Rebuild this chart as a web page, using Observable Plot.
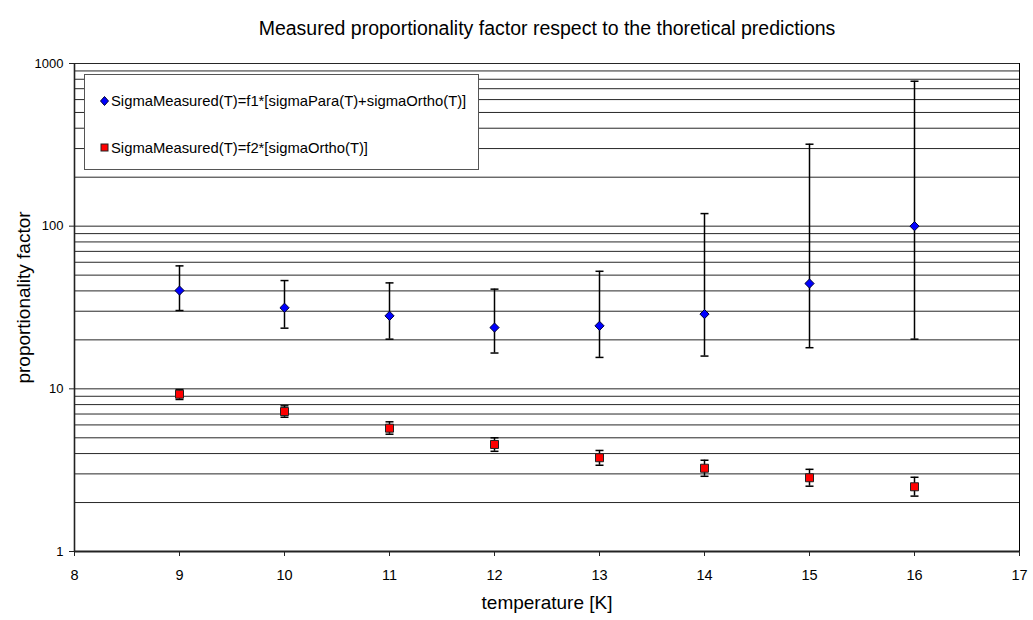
<!DOCTYPE html>
<html>
<head>
<meta charset="utf-8">
<script src="https://cdn.jsdelivr.net/npm/d3@7"></script>
<script src="https://cdn.jsdelivr.net/npm/@observablehq/plot@0.6"></script>
<style>
  html, body { margin: 0; padding: 0; background: #fff; }
  #wrap { position: relative; width: 1033px; height: 620px; font-family: "Liberation Sans", Arial, sans-serif; }
  #legend { position: absolute; left: 84px; top: 74px; width: 395px; height: 96px; border: 1px solid #555; background: #fff; box-sizing: border-box; font-size: 14.8px; color: #000; }
  .lrow { position: absolute; left: 15px; height: 17px; display: flex; align-items: center; white-space: nowrap; }
  .lrow svg { margin-right: 2px; }
</style>
</head>
<body>
<div id="wrap"></div>
<script>
// ---- data ----
const temps = [9, 10, 11, 12, 13, 14, 15, 16];
const f1Value = [40.2, 31.5, 28.1, 23.8, 24.4, 28.8, 44.4, 100];
const f1Low   = [30.3, 23.6, 20.2, 16.6, 15.6, 15.9, 17.9, 20.2];
const f1High  = [57, 46.3, 44.8, 41, 52.8, 119.5, 319, 778];
const f2Value = [9.27, 7.25, 5.73, 4.55, 3.77, 3.25, 2.84, 2.5];
const f2Low   = [8.6, 6.69, 5.26, 4.13, 3.39, 2.9, 2.52, 2.19];
const f2High  = [9.9, 7.86, 6.27, 5.0, 4.18, 3.64, 3.2, 2.86];
const xTicks = [8, 9, 10, 11, 12, 13, 14, 15, 16, 17];
const yTicks = [1, 10, 100, 1000];
const gridValues = [2, 3, 4, 5, 6, 7, 8, 9, 10, 20, 30, 40, 50, 60, 70, 80, 90, 100,
                    200, 300, 400, 500, 600, 700, 800, 900, 1000];
const seriesNames = ["SigmaMeasured(T)=f1*[sigmaPara(T)+sigmaOrtho(T)]", "SigmaMeasured(T)=f2*[sigmaOrtho(T)]"];
const titleText = "Measured proportionality factor respect to the thoretical predictions";
const xLabel = "temperature [K]";
const yLabel = "proportionality factor";

const f1Rows = temps.map((t, i) => ({t, v: f1Value[i], lo: f1Low[i], hi: f1High[i]}));
const f2Rows = temps.map((t, i) => ({t, v: f2Value[i], lo: f2Low[i], hi: f2High[i]}));

// custom symbols
const cap = {draw(ctx, size) { const r = Math.sqrt(size / Math.PI); ctx.moveTo(-r, 0); ctx.lineTo(r, 0); }};
const diamond = {draw(ctx, size) { const r = Math.sqrt(size / Math.PI); ctx.moveTo(0, -r); ctx.lineTo(r, 0); ctx.lineTo(0, r); ctx.lineTo(-r, 0); ctx.closePath(); }};
const square = {draw(ctx, size) { const r = Math.sqrt(size / Math.PI); ctx.rect(-r, -r, 2 * r, 2 * r); }};

const chart = Plot.plot({
  width: 1033,
  height: 620,
  marginTop: 63,
  marginBottom: 69,
  marginLeft: 74,
  marginRight: 14,
  style: {fontFamily: "Liberation Sans, Arial, sans-serif", fontSize: "13px", color: "#000", background: "#fff"},
  x: {domain: [8, 17]},
  y: {type: "log", domain: [1, 1000]},
  marks: [
    Plot.ruleY(gridValues, {stroke: "#000", strokeWidth: 1, strokeOpacity: 0.85}),
    Plot.ruleX([17], {stroke: "#000", strokeWidth: 1}),
    Plot.ruleY([1], {stroke: "#222", strokeWidth: 2}),
    Plot.ruleX([8], {stroke: "#222", strokeWidth: 1.6}),
    Plot.axisX(xTicks, {tickSize: 5, tickPadding: 13, fontSize: 14.5, label: null, tickFormat: d => String(d), stroke: "#222"}),
    Plot.axisY(yTicks, {tickSize: 5, tickPadding: 6, fontSize: 13, label: null, tickFormat: d => String(d), stroke: "#222"}),
    // error bars
    Plot.ruleX(f1Rows, {x: "t", y1: "lo", y2: "hi", stroke: "#000", strokeWidth: 1.5}),
    Plot.dot(f1Rows, {x: "t", y: "hi", symbol: cap, r: 4, stroke: "#000", strokeWidth: 1.5, fill: "none"}),
    Plot.dot(f1Rows, {x: "t", y: "lo", symbol: cap, r: 4, stroke: "#000", strokeWidth: 1.5, fill: "none"}),
    Plot.ruleX(f2Rows, {x: "t", y1: "lo", y2: "hi", stroke: "#000", strokeWidth: 1.5}),
    Plot.dot(f2Rows, {x: "t", y: "hi", symbol: cap, r: 4, stroke: "#000", strokeWidth: 1.5, fill: "none"}),
    Plot.dot(f2Rows, {x: "t", y: "lo", symbol: cap, r: 4, stroke: "#000", strokeWidth: 1.5, fill: "none"}),
    // markers
    Plot.dot(f1Rows, {x: "t", y: "v", symbol: diamond, r: 4.6, fill: "#0000ff", stroke: "#000033", strokeWidth: 1}),
    Plot.dot(f2Rows, {x: "t", y: "v", symbol: square, r: 4, fill: "#ff0000", stroke: "#222", strokeWidth: 1}),
    // texts
    Plot.text([titleText], {frameAnchor: "top", dy: -42, fontSize: 19.5, fill: "#000"}),
    Plot.text([xLabel], {frameAnchor: "bottom", dy: 57, fontSize: 19, fill: "#000"}),
    Plot.text([yLabel], {frameAnchor: "left", textAnchor: "middle", dx: -51, dy: -10, rotate: -90, fontSize: 19, fill: "#000"})
  ]
});

const wrap = document.getElementById("wrap");
wrap.appendChild(chart);

// legend overlay
const legend = document.createElement("div");
legend.id = "legend";
const rows = [
  {name: seriesNames[0], top: 17, svg: '<svg width="9" height="10" viewBox="-4.5 -5 9 10"><path d="M0,-4.5L4,0L0,4.5L-4,0Z" fill="#0000ff" stroke="#000033" stroke-width="1"/></svg>'},
  {name: seriesNames[1], top: 64, svg: '<svg width="9" height="9" viewBox="-4.5 -4.5 9 9"><rect x="-3.5" y="-3.5" width="7" height="7" fill="#ff0000" stroke="#222" stroke-width="1"/></svg>'}
];
rows.forEach(r => {
  const d = document.createElement("div");
  d.className = "lrow";
  d.style.top = r.top + "px";
  d.innerHTML = r.svg + "<span>" + r.name + "</span>";
  legend.appendChild(d);
});
wrap.appendChild(legend);
</script>
</body>
</html>
